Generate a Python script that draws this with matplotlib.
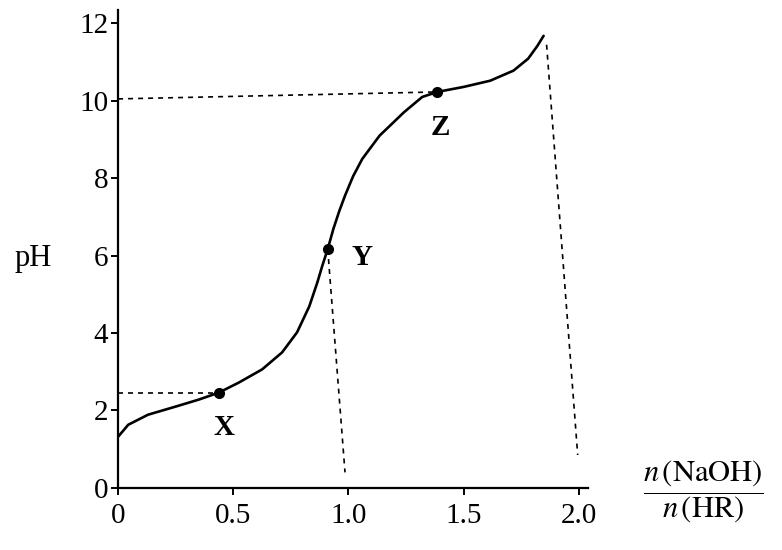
import matplotlib.pyplot as plt

plt.rcParams["font.family"] = ["Liberation Serif", "DejaVu Serif"]
plt.rcParams["mathtext.fontset"] = "stix"

# titration curve
ratio = [0, 0.044, 0.13, 0.25, 0.35, 0.437, 0.524, 0.625, 0.712, 0.777,
         0.83, 0.865, 0.886, 0.91, 0.935, 0.96, 0.985, 1.02, 1.06, 1.135,
         1.24, 1.32, 1.385, 1.50, 1.615, 1.716, 1.78, 1.82, 1.847]
ph = [1.32, 1.63, 1.89, 2.1, 2.28, 2.46, 2.72, 3.06, 3.5, 4.02,
      4.69, 5.31, 5.73, 6.17, 6.7, 7.15, 7.55, 8.05, 8.5, 9.1,
      9.7, 10.1, 10.23, 10.36, 10.52, 10.78, 11.09, 11.42, 11.68]

# marked points
pt_names = ["X", "Y", "Z"]
pt_x = [0.437, 0.91, 1.385]
pt_y = [2.46, 6.17, 10.23]
name_x = [0.46, 1.06, 1.40]
name_y = [1.55, 5.95, 9.3]

# dashed guide lines (start, end)
guide_x = [(0, 0.437), (0.91, 0.985), (0, 1.385), (1.86, 1.995)]
guide_y = [(2.46, 2.46), (6.17, 0.4), (10.05, 10.23), (11.45, 0.85)]

xticks = [0, 0.5, 1.0, 1.5, 2.0]
xtick_labels = ["0", "0.5", "1.0", "1.5", "2.0"]
yticks = [0, 2, 4, 6, 8, 10, 12]

fig = plt.figure(figsize=(7.82, 5.5), dpi=100)
ax = fig.add_axes([0.151, 0.113, 0.601, 0.869])

for gx, gy in zip(guide_x, guide_y):
    ax.plot(gx, gy, color="black", lw=1.2, linestyle=(0, (3, 3)))

ax.plot(ratio, ph, color="black", lw=1.9, solid_capstyle="round",
        solid_joinstyle="round")
ax.plot(pt_x, pt_y, "o", color="black", markersize=7)
for n, tx, ty in zip(pt_names, name_x, name_y):
    ax.text(tx, ty, n, fontsize=21, fontweight="bold", ha="center", va="center")

ax.set_xlim(0, 2.04)
ax.set_ylim(0, 12.35)
ax.spines["top"].set_visible(False)
ax.spines["right"].set_visible(False)
ax.spines["left"].set_linewidth(1.6)
ax.spines["bottom"].set_linewidth(1.6)
ax.set_xticks(xticks)
ax.set_xticklabels(xtick_labels)
ax.set_yticks(yticks)
ax.tick_params(axis="both", labelsize=21, length=5, width=1.4, direction="out", pad=2)
ax.tick_params(axis="x", pad=6)

fig.text(0.042, 0.53, "pH", fontsize=22, ha="center", va="center")
fig.text(0.9, 0.105, r"$\dfrac{n\,(\mathrm{NaOH})}{n\,(\mathrm{HR})}$", fontsize=22,
         ha="center", va="center")

plt.savefig("out.png", dpi=100)
